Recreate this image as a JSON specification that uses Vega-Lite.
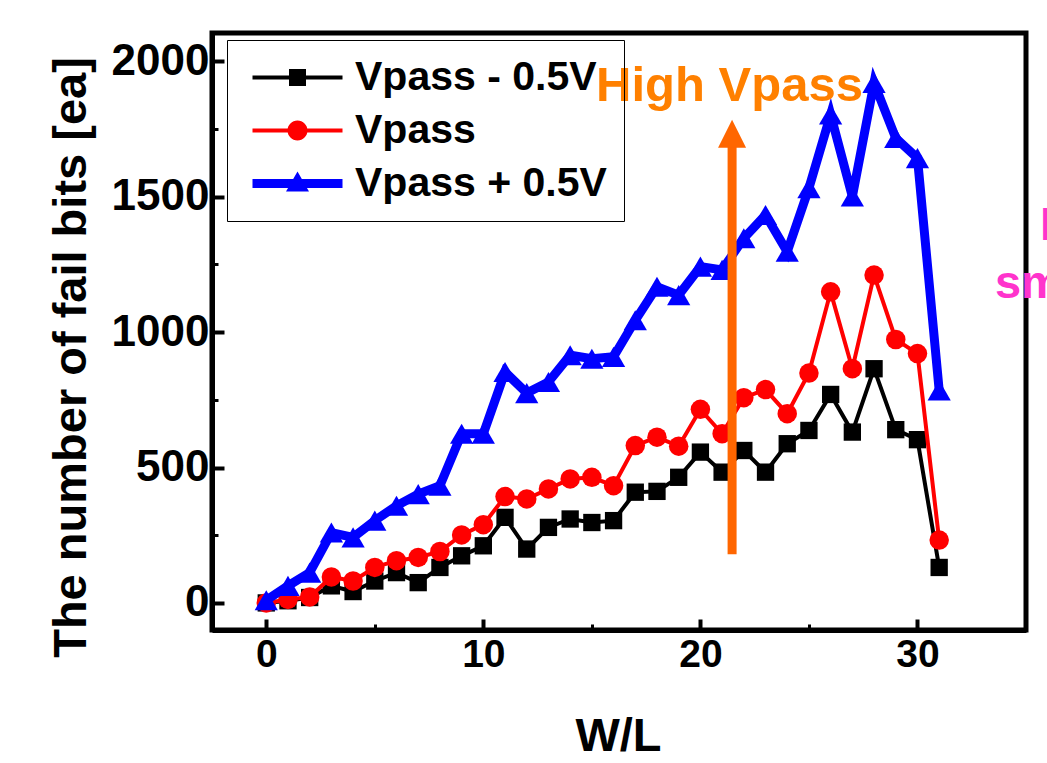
{
  "$schema": "https://vega.github.io/schema/vega-lite/v6.json",
  "width": 814,
  "height": 597,
  "autosize": {"type": "none"},
  "padding": {"left": 212, "top": 33, "right": 21, "bottom": 133},
  "background": "white",
  "config": {
    "font": "Liberation Sans",
    "view": {"stroke": "black", "strokeWidth": 5, "fill": "white"}
  },
  "datasets": {
    "fails": [
      {"wl": 0, "series": "Vpass - 0.5V", "fails": 0},
      {"wl": 1, "series": "Vpass - 0.5V", "fails": 8},
      {"wl": 2, "series": "Vpass - 0.5V", "fails": 20},
      {"wl": 3, "series": "Vpass - 0.5V", "fails": 63},
      {"wl": 4, "series": "Vpass - 0.5V", "fails": 42},
      {"wl": 5, "series": "Vpass - 0.5V", "fails": 81},
      {"wl": 6, "series": "Vpass - 0.5V", "fails": 112},
      {"wl": 7, "series": "Vpass - 0.5V", "fails": 75},
      {"wl": 8, "series": "Vpass - 0.5V", "fails": 131},
      {"wl": 9, "series": "Vpass - 0.5V", "fails": 174},
      {"wl": 10, "series": "Vpass - 0.5V", "fails": 211},
      {"wl": 11, "series": "Vpass - 0.5V", "fails": 316},
      {"wl": 12, "series": "Vpass - 0.5V", "fails": 199},
      {"wl": 13, "series": "Vpass - 0.5V", "fails": 279},
      {"wl": 14, "series": "Vpass - 0.5V", "fails": 310},
      {"wl": 15, "series": "Vpass - 0.5V", "fails": 297},
      {"wl": 16, "series": "Vpass - 0.5V", "fails": 304},
      {"wl": 17, "series": "Vpass - 0.5V", "fails": 409},
      {"wl": 18, "series": "Vpass - 0.5V", "fails": 412},
      {"wl": 19, "series": "Vpass - 0.5V", "fails": 464},
      {"wl": 20, "series": "Vpass - 0.5V", "fails": 557},
      {"wl": 21, "series": "Vpass - 0.5V", "fails": 483},
      {"wl": 22, "series": "Vpass - 0.5V", "fails": 563},
      {"wl": 23, "series": "Vpass - 0.5V", "fails": 483},
      {"wl": 24, "series": "Vpass - 0.5V", "fails": 588},
      {"wl": 25, "series": "Vpass - 0.5V", "fails": 637},
      {"wl": 26, "series": "Vpass - 0.5V", "fails": 770},
      {"wl": 27, "series": "Vpass - 0.5V", "fails": 631},
      {"wl": 28, "series": "Vpass - 0.5V", "fails": 865},
      {"wl": 29, "series": "Vpass - 0.5V", "fails": 640},
      {"wl": 30, "series": "Vpass - 0.5V", "fails": 603},
      {"wl": 31, "series": "Vpass - 0.5V", "fails": 131},
      {"wl": 0, "series": "Vpass", "fails": 0},
      {"wl": 1, "series": "Vpass", "fails": 13},
      {"wl": 2, "series": "Vpass", "fails": 22},
      {"wl": 3, "series": "Vpass", "fails": 96},
      {"wl": 4, "series": "Vpass", "fails": 81},
      {"wl": 5, "series": "Vpass", "fails": 131},
      {"wl": 6, "series": "Vpass", "fails": 156},
      {"wl": 7, "series": "Vpass", "fails": 168},
      {"wl": 8, "series": "Vpass", "fails": 190},
      {"wl": 9, "series": "Vpass", "fails": 251},
      {"wl": 10, "series": "Vpass", "fails": 289},
      {"wl": 11, "series": "Vpass", "fails": 393},
      {"wl": 12, "series": "Vpass", "fails": 384},
      {"wl": 13, "series": "Vpass", "fails": 421},
      {"wl": 14, "series": "Vpass", "fails": 458},
      {"wl": 15, "series": "Vpass", "fails": 464},
      {"wl": 16, "series": "Vpass", "fails": 433},
      {"wl": 17, "series": "Vpass", "fails": 581},
      {"wl": 18, "series": "Vpass", "fails": 612},
      {"wl": 19, "series": "Vpass", "fails": 579},
      {"wl": 20, "series": "Vpass", "fails": 715},
      {"wl": 21, "series": "Vpass", "fails": 625},
      {"wl": 22, "series": "Vpass", "fails": 758},
      {"wl": 23, "series": "Vpass", "fails": 788},
      {"wl": 24, "series": "Vpass", "fails": 699},
      {"wl": 25, "series": "Vpass", "fails": 849},
      {"wl": 26, "series": "Vpass", "fails": 1149},
      {"wl": 27, "series": "Vpass", "fails": 865},
      {"wl": 28, "series": "Vpass", "fails": 1211},
      {"wl": 29, "series": "Vpass", "fails": 973},
      {"wl": 30, "series": "Vpass", "fails": 921},
      {"wl": 31, "series": "Vpass", "fails": 232},
      {"wl": 0, "series": "Vpass + 0.5V", "fails": 10},
      {"wl": 1, "series": "Vpass + 0.5V", "fails": 63},
      {"wl": 2, "series": "Vpass + 0.5V", "fails": 112},
      {"wl": 3, "series": "Vpass + 0.5V", "fails": 260},
      {"wl": 4, "series": "Vpass + 0.5V", "fails": 242},
      {"wl": 5, "series": "Vpass + 0.5V", "fails": 304},
      {"wl": 6, "series": "Vpass + 0.5V", "fails": 359},
      {"wl": 7, "series": "Vpass + 0.5V", "fails": 402},
      {"wl": 8, "series": "Vpass + 0.5V", "fails": 433},
      {"wl": 9, "series": "Vpass + 0.5V", "fails": 625},
      {"wl": 10, "series": "Vpass + 0.5V", "fails": 625},
      {"wl": 11, "series": "Vpass + 0.5V", "fails": 853},
      {"wl": 12, "series": "Vpass + 0.5V", "fails": 775},
      {"wl": 13, "series": "Vpass + 0.5V", "fails": 816},
      {"wl": 14, "series": "Vpass + 0.5V", "fails": 915},
      {"wl": 15, "series": "Vpass + 0.5V", "fails": 902},
      {"wl": 16, "series": "Vpass + 0.5V", "fails": 909},
      {"wl": 17, "series": "Vpass + 0.5V", "fails": 1044},
      {"wl": 18, "series": "Vpass + 0.5V", "fails": 1168},
      {"wl": 19, "series": "Vpass + 0.5V", "fails": 1137},
      {"wl": 20, "series": "Vpass + 0.5V", "fails": 1242},
      {"wl": 21, "series": "Vpass + 0.5V", "fails": 1230},
      {"wl": 22, "series": "Vpass + 0.5V", "fails": 1347},
      {"wl": 23, "series": "Vpass + 0.5V", "fails": 1433},
      {"wl": 24, "series": "Vpass + 0.5V", "fails": 1297},
      {"wl": 25, "series": "Vpass + 0.5V", "fails": 1532},
      {"wl": 26, "series": "Vpass + 0.5V", "fails": 1804},
      {"wl": 27, "series": "Vpass + 0.5V", "fails": 1501},
      {"wl": 28, "series": "Vpass + 0.5V", "fails": 1921},
      {"wl": 29, "series": "Vpass + 0.5V", "fails": 1717},
      {"wl": 30, "series": "Vpass + 0.5V", "fails": 1643},
      {"wl": 31, "series": "Vpass + 0.5V", "fails": 785}
    ],
    "arrow": [{"wl": 21.46, "y0": 180, "y1": 1690, "head": 1733}],
    "notes": [
      {"wl": 21.34, "fails": 1855, "label": "High Vpass", "kind": "high"},
      {"wl": 35.64, "fails": 1340, "label": "Less", "kind": "side"},
      {"wl": 33.57, "fails": 1126, "label": "smaller", "kind": "side"}
    ]
  },
  "data": {"name": "fails"},
  "resolve": {"axis": {"x": "independent", "y": "independent"}},
  "layer": [
    {
      "transform": [{"filter": "datum.series === 'Vpass - 0.5V'"}],
      "mark": {"type": "line", "strokeWidth": 4},
      "encoding": {
        "x": {
          "field": "wl", "type": "quantitative",
          "scale": {"domain": [-2.5, 35], "nice": false, "zero": false},
          "axis": {
            "orient": "bottom", "values": [0, 10, 20, 30], "format": "d", "grid": false,
            "tickSize": -11, "tickWidth": 4, "tickColor": "black",
            "domainColor": "black", "domainWidth": 5,
            "labelFont": "Liberation Sans", "labelFontSize": 39, "labelFontWeight": "bold",
            "labelColor": "black", "labelBaseline": "alphabetic", "labelPadding": 47,
            "labelFlush": false, "labelOverlap": false,
            "title": "W/L", "titleFont": "Liberation Sans", "titleFontSize": 47,
            "titleFontWeight": "bold", "titleColor": "black",
            "titleX": 406, "titleY": 120, "titleAlign": "center", "titleBaseline": "alphabetic"
          }
        },
        "y": {
          "field": "fails", "type": "quantitative",
          "scale": {"domain": [-100, 2105], "nice": false, "zero": false},
          "axis": {
            "orient": "left", "values": [0, 500, 1000, 1500, 2000], "format": "d", "grid": false,
            "tickSize": -12, "tickWidth": 4, "tickColor": "black",
            "domainColor": "black", "domainWidth": 5,
            "labelFont": "Liberation Sans", "labelFontSize": 44, "labelFontWeight": "bold",
            "labelColor": "black", "labelPadding": 15, "labelBaseline": "middle",
            "labelFlush": false, "labelOverlap": false,
            "title": "The number of fail bits [ea]", "titleFont": "Liberation Sans",
            "titleFontSize": 47, "titleFontWeight": "bold", "titleColor": "black",
            "titleAngle": -90, "titleX": -127, "titleY": 324,
            "titleAlign": "center", "titleBaseline": "alphabetic"
          }
        },
        "color": {
          "field": "series", "type": "nominal",
          "scale": {
            "domain": ["Vpass - 0.5V", "Vpass", "Vpass + 0.5V"],
            "range": ["#000000", "#ff0000", "#0000ff"]
          },
          "legend": {
            "orient": "none", "legendX": 15, "legendY": 7, "title": null,
            "strokeColor": "black", "fillColor": "transparent", "padding": 17,
            "symbolType": "square", "symbolSize": 1600, "symbolOffset": 33,
            "labelOffset": 37, "rowPadding": 11,
            "labelFont": "Liberation Sans", "labelFontSize": 41, "labelFontWeight": "bold",
            "labelColor": "black", "labelLimit": 0,
            "encode": {
              "symbols": {
                "update": {
                  "shape": {"signal": "datum.value === 'Vpass - 0.5V' ? 'M-2.25,-0.1H2.25V0.1H-2.25Z M-0.425,-0.425H0.425V0.425H-0.425Z' : datum.value === 'Vpass' ? 'M-2.25,-0.1H2.25V0.1H-2.25Z M-0.5,0A0.5,0.5 0 1,1 0.5,0A0.5,0.5 0 1,1 -0.5,0Z' : 'M-2.25,-0.22H2.25V0.22H-2.25Z M0,-0.6L0.575,0.4H-0.575Z'"},
                  "fill": {"scale": "color", "field": "value"},
                  "stroke": {"value": "transparent"},
                  "strokeWidth": {"value": 0},
                  "opacity": {"value": 1}
                }
              }
            }
          }
        }
      }
    },
    {
      "transform": [{"filter": "datum.series === 'Vpass - 0.5V'"}],
      "mark": {"type": "point", "shape": "square", "size": 300, "filled": true, "opacity": 1, "color": "#000000"},
      "encoding": {
        "x": {"field": "wl", "type": "quantitative", "axis": null},
        "y": {"field": "fails", "type": "quantitative", "axis": null}
      }
    },
    {
      "transform": [{"filter": "datum.series === 'Vpass'"}],
      "mark": {"type": "line", "strokeWidth": 4, "color": "#ff0000"},
      "encoding": {
        "x": {"field": "wl", "type": "quantitative", "axis": null},
        "y": {"field": "fails", "type": "quantitative", "axis": null}
      }
    },
    {
      "transform": [{"filter": "datum.series === 'Vpass'"}],
      "mark": {"type": "point", "shape": "circle", "size": 380, "filled": true, "opacity": 1, "color": "#ff0000"},
      "encoding": {
        "x": {"field": "wl", "type": "quantitative", "axis": null},
        "y": {"field": "fails", "type": "quantitative", "axis": null}
      }
    },
    {
      "transform": [{"filter": "datum.series === 'Vpass + 0.5V'"}],
      "mark": {"type": "line", "strokeWidth": 9, "color": "#0000ff"},
      "encoding": {
        "x": {"field": "wl", "type": "quantitative", "axis": null},
        "y": {"field": "fails", "type": "quantitative", "axis": null}
      }
    },
    {
      "transform": [{"filter": "datum.series === 'Vpass + 0.5V'"}],
      "mark": {"type": "point", "shape": "triangle-up", "size": 540, "filled": true, "opacity": 1, "color": "#0000ff"},
      "encoding": {
        "x": {"field": "wl", "type": "quantitative", "axis": null},
        "y": {"field": "fails", "type": "quantitative", "axis": null}
      }
    },
    {
      "data": {"name": "arrow"},
      "mark": {"type": "rule", "strokeWidth": 9, "color": "#ff6600"},
      "encoding": {
        "x": {
          "field": "wl", "type": "quantitative",
          "axis": {
            "orient": "bottom", "values": [5, 15, 25], "grid": false,
            "tickSize": -6, "tickWidth": 3, "tickColor": "black",
            "labels": false, "domain": false, "title": null
          }
        },
        "y": {
          "field": "y0", "type": "quantitative",
          "axis": {
            "orient": "left", "values": [250, 750, 1250, 1750], "grid": false,
            "tickSize": -6, "tickWidth": 3, "tickColor": "black",
            "labels": false, "domain": false, "title": null
          }
        },
        "y2": {"field": "y1"}
      }
    },
    {
      "data": {"name": "arrow"},
      "mark": {"type": "point", "shape": "M0,-1L1,1L-1,1Z", "size": 784, "filled": true, "opacity": 1, "color": "#ff6600"},
      "encoding": {
        "x": {"field": "wl", "type": "quantitative", "axis": null},
        "y": {"field": "head", "type": "quantitative", "axis": null}
      }
    },
    {
      "data": {"name": "notes"},
      "transform": [{"filter": "datum.kind === 'high'"}],
      "mark": {"type": "text", "font": "Liberation Sans", "fontSize": 49, "fontWeight": "bold", "color": "#ff8000", "align": "center", "baseline": "alphabetic"},
      "encoding": {
        "x": {"field": "wl", "type": "quantitative", "axis": null},
        "y": {"field": "fails", "type": "quantitative", "axis": null},
        "text": {"field": "label"}
      }
    },
    {
      "data": {"name": "notes"},
      "transform": [{"filter": "datum.kind === 'side'"}],
      "mark": {"type": "text", "font": "Liberation Sans", "fontSize": 47, "fontWeight": "bold", "color": "#ff33cc", "align": "left", "baseline": "alphabetic"},
      "encoding": {
        "x": {"field": "wl", "type": "quantitative", "axis": null},
        "y": {"field": "fails", "type": "quantitative", "axis": null},
        "text": {"field": "label"}
      }
    }
  ]
}
